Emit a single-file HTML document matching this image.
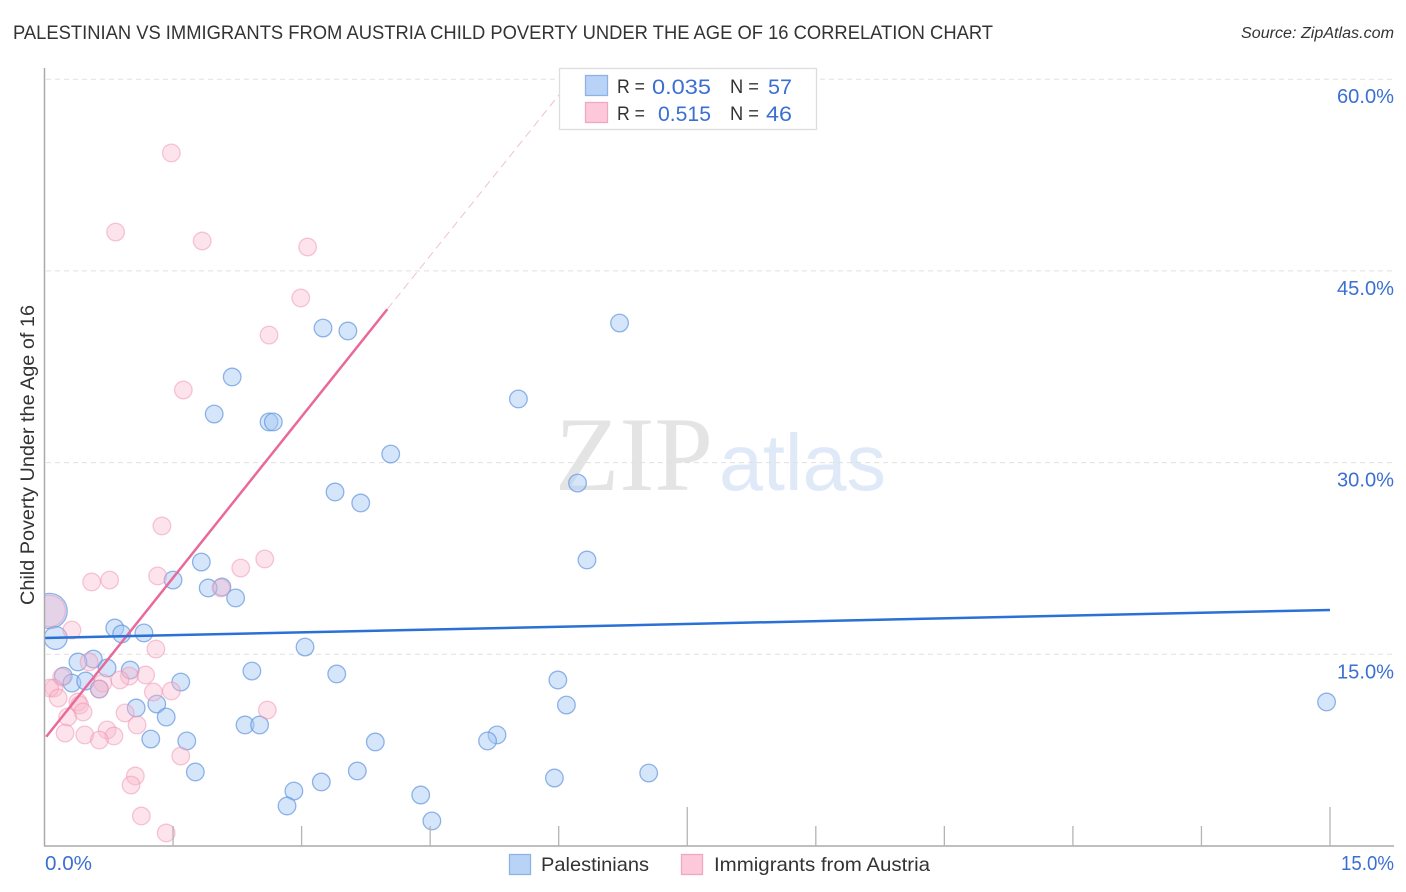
<!DOCTYPE html>
<html lang="en">
<head>
<meta charset="utf-8">
<title>Palestinian vs Immigrants from Austria Child Poverty Correlation Chart</title>
<style>
html,body{margin:0;padding:0;background:#fff;}
svg{display:block;font-family:"Liberation Sans",sans-serif;}
</style>
</head>
<body>
<svg id="chart" width="1406" height="892" viewBox="0 0 1406 892" xmlns="http://www.w3.org/2000/svg">
  <defs>
    <clipPath id="plot-clip"><rect x="45" y="60" width="1349" height="786"></rect></clipPath>
  </defs>
  <text x="13" y="39" font-size="19" fill="#333" textLength="980" lengthAdjust="spacingAndGlyphs">PALESTINIAN VS IMMIGRANTS FROM AUSTRIA CHILD POVERTY UNDER THE AGE OF 16 CORRELATION CHART</text>
  <text x="1241" y="38" font-size="15.5" font-style="italic" fill="#333" textLength="153" lengthAdjust="spacingAndGlyphs">Source: ZipAtlas.com</text>

  <g>
    <text x="555" y="490" font-family="'Liberation Serif',serif" font-size="106" fill="#e4e4e4" textLength="158" lengthAdjust="spacingAndGlyphs">ZIP</text>
    <text x="719" y="490" font-size="80" fill="#dfe9f8" textLength="167" lengthAdjust="spacingAndGlyphs">atlas</text>
  </g>

  <g id="grid"></g>
  <g id="points" clip-path="url(#plot-clip)"></g>
  <g id="trends"></g>
  <g id="axes"></g>

  <text transform="translate(34,605) rotate(-90)" font-size="19" fill="#333" textLength="300" lengthAdjust="spacingAndGlyphs">Child Poverty Under the Age of 16</text>

  <g>
    <rect x="559.5" y="68.5" width="257" height="61" fill="#fff" stroke="#ddd" stroke-width="1.3"></rect>
    <rect x="585.5" y="75.5" width="22" height="20" fill="#b9d3f7" stroke="#8fb2e6" stroke-width="1.3"></rect>
    <rect x="585.5" y="102.5" width="22" height="20" fill="#fcc8da" stroke="#f0a8c0" stroke-width="1.3"></rect>
    <text x="617" y="93" font-size="19" fill="#333" textLength="28" lengthAdjust="spacingAndGlyphs">R =</text>
    <text x="652" y="94" font-size="21" fill="#3b70d2" textLength="59" lengthAdjust="spacingAndGlyphs">0.035</text>
    <text x="730" y="93" font-size="19" fill="#333" textLength="29" lengthAdjust="spacingAndGlyphs">N =</text>
    <text x="768" y="94" font-size="21" fill="#3b70d2" textLength="24" lengthAdjust="spacingAndGlyphs">57</text>
    <text x="617" y="120" font-size="19" fill="#333" textLength="28" lengthAdjust="spacingAndGlyphs">R =</text>
    <text x="658" y="121" font-size="21" fill="#3b70d2" textLength="53" lengthAdjust="spacingAndGlyphs">0.515</text>
    <text x="730" y="120" font-size="19" fill="#333" textLength="29" lengthAdjust="spacingAndGlyphs">N =</text>
    <text x="766" y="121" font-size="21" fill="#3b70d2" textLength="26" lengthAdjust="spacingAndGlyphs">46</text>
  </g>

  <g>
    <rect x="509.5" y="854.5" width="21" height="20" fill="#b9d3f7" stroke="#8fb2e6" stroke-width="1.3"></rect>
    <text x="541" y="871" font-size="19.5" fill="#333" textLength="108" lengthAdjust="spacingAndGlyphs">Palestinians</text>
    <rect x="681.5" y="854.5" width="21" height="20" fill="#fcc8da" stroke="#f0a8c0" stroke-width="1.3"></rect>
    <text x="714" y="871" font-size="19.5" fill="#333" textLength="216" lengthAdjust="spacingAndGlyphs">Immigrants from Austria</text>
  </g>
</svg>
<script>
const blueX = [0.06,0.13,6.71,3.25,3.54,2.19,5.53,1.98,2.62,2.67,4.04,6.22,3.39,3.69,6.33,1.83,1.50,2.07,1.91,2.23,0.82,1.16,0.90,3.04,0.57,0.39,2.42,0.73,3.41,1.00,0.22,0.32,0.48,1.59,5.99,0.64,1.31,1.07,6.09,14.96,1.42,2.34,2.51,5.28,5.17,1.24,1.66,3.86,3.65,1.76,7.05,5.95,3.23,2.91,4.39,2.83,4.52];
const blueY = [18.39,16.28,40.92,40.53,40.30,36.70,34.98,33.80,33.18,33.18,30.67,28.40,27.70,26.84,22.38,22.22,20.81,20.27,20.19,19.41,17.06,16.67,16.59,15.57,14.63,14.40,13.69,13.93,13.46,13.77,13.30,12.75,12.91,12.83,12.99,12.28,11.11,10.80,11.03,11.27,10.09,9.47,9.47,8.69,8.22,8.37,8.22,8.14,5.87,5.79,5.71,5.32,5.01,4.30,3.99,3.13,1.96];
const blueWeight = [4.0,1.7];
const pinkX = [0.06,1.48,0.83,1.84,3.07,2.99,2.62,1.62,1.37,2.57,2.29,1.32,0.76,0.55,2.06,0.32,1.30,0.52,0.20,1.18,0.99,0.88,0.68,0.64,1.27,1.48,0.11,0.06,0.16,0.39,0.41,0.45,0.27,0.94,1.08,0.24,0.47,0.73,0.81,0.64,1.59,1.06,1.01,1.13,1.42,2.60];
const pinkY = [18.39,54.23,48.04,47.34,46.87,42.88,39.98,35.68,25.04,22.46,21.75,21.13,20.81,20.66,20.19,16.90,15.41,14.40,13.22,13.38,13.30,12.99,12.75,12.28,12.05,12.13,12.36,12.36,11.58,11.27,11.03,10.49,10.09,10.41,9.47,8.84,8.69,9.08,8.61,8.29,7.04,5.48,4.77,2.35,1.02,10.64];
const pinkWeight = [3.2];
const blueTrendX = [0, 15];
const blueTrendY = [16.28, 18.47];
const pinkTrendX = [0.02, 4.0];
const pinkTrendY = [8.55, 42.0];
const pinkDashX = [4.0, 6.15];
const pinkDashY = [42.0, 60.0];
const yTicks = [15, 30, 45, 60];
const yTickLabels = ["15.0%", "30.0%", "45.0%", "60.0%"];
const xTicks = [1.5, 3, 4.5, 6, 7.5, 9, 10.5, 12, 13.5, 15];
const xMajorTicks = [7.5, 15];
const xEndLabels = ["0.0%", "15.0%"];

const NS = "http://www.w3.org/2000/svg";
function xPos(v) { return 44.5 + v * 85.7; }
function yPos(v) { return 846 - v * 12.78; }
function mk(parent, tag, attrs, text) {
  const el = document.createElementNS(NS, tag);
  for (const k in attrs) el.setAttribute(k, attrs[k]);
  if (text !== undefined) el.textContent = text;
  parent.appendChild(el);
  return el;
}

const grid = document.getElementById("grid");
const axes = document.getElementById("axes");
const points = document.getElementById("points");
const trends = document.getElementById("trends");

yTicks.forEach(function (v, i) {
  const g = mk(grid, "line", {x1: 46, x2: 1394, y1: yPos(v), y2: yPos(v), stroke: "#e0e0e0", "stroke-width": 1, "stroke-dasharray": "5 4"});
  
  
  const t = mk(axes, "text", {x: 1394, y: yPos(v) + 24, "text-anchor": "end", "font-size": 20, fill: "#3b70d2", textLength: 57, lengthAdjust: "spacingAndGlyphs"}, yTickLabels[i]);
  
  
});

const yAxis = mk(axes, "line", {x1: 44.5, x2: 44.5, y1: 68, y2: 846, stroke: "#aaa", "stroke-width": 1.5});


const xAxis = mk(axes, "line", {x1: 44, x2: 1394, y1: 846, y2: 846, stroke: "#aaa", "stroke-width": 1.5});



xTicks.forEach(function (v) {
  const top = xMajorTicks.indexOf(v) >= 0 ? 807 : 826;
  const tick = mk(axes, "line", {x1: xPos(v), x2: xPos(v), y1: top, y2: 846, stroke: "#b4b4b4", "stroke-width": 1.3});
  
  
});

const xLabel0 = mk(axes, "text", {x: 45, y: 870, "font-size": 20, fill: "#3b70d2", textLength: 47, lengthAdjust: "spacingAndGlyphs"}, xEndLabels[0]);


const xLabel1 = mk(axes, "text", {x: 1394, y: 870, "text-anchor": "end", "font-size": 20, fill: "#3b70d2", textLength: 53, lengthAdjust: "spacingAndGlyphs"}, xEndLabels[1]);



blueX.forEach(function (v, i) {
  const c = mk(points, "circle", {cx: xPos(v), cy: yPos(blueY[i]), r: 8.8 * Math.sqrt(blueWeight[i] || 1), fill: "#a8c8f4", "fill-opacity": 0.48, stroke: "#5f93dd", "stroke-opacity": 0.68, "stroke-width": 1.3});
  
  
});
pinkX.forEach(function (v, i) {
  const c = mk(points, "circle", {cx: xPos(v), cy: yPos(pinkY[i]), r: 8.8 * Math.sqrt(pinkWeight[i] || 1), fill: "#f9b8cd", "fill-opacity": 0.4, stroke: "#ee8fae", "stroke-opacity": 0.48, "stroke-width": 1.3});
  
  
});

const pinkDash = mk(trends, "line", {x1: xPos(pinkDashX[0]), y1: yPos(pinkDashY[0]), x2: xPos(pinkDashX[1]), y2: yPos(pinkDashY[1]), stroke: "#f0c0d0", "stroke-width": 1, "stroke-dasharray": "8 5"});


const pinkLine = mk(trends, "line", {x1: xPos(pinkTrendX[0]), y1: yPos(pinkTrendY[0]), x2: xPos(pinkTrendX[1]), y2: yPos(pinkTrendY[1]), stroke: "#e8699a", "stroke-width": 2.5});


const blueLine = mk(trends, "line", {x1: xPos(blueTrendX[0]), y1: yPos(blueTrendY[0]), x2: xPos(blueTrendX[1]), y2: yPos(blueTrendY[1]), stroke: "#2a70d6", "stroke-width": 2.5});


</script>
</body>
</html>
